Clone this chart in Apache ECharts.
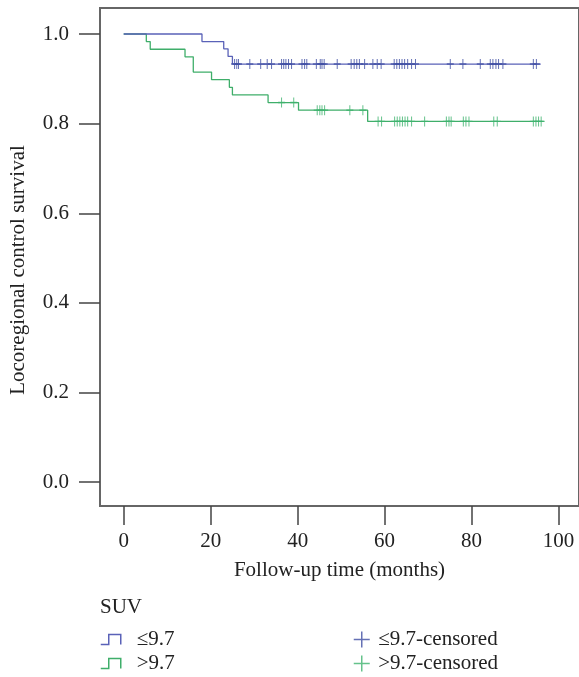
<!DOCTYPE html>
<html>
<head>
<meta charset="utf-8">
<script src="https://cdn.jsdelivr.net/npm/echarts@6/dist/echarts.min.js"></script>
<style>
html,body{margin:0;padding:0;background:#fff;}
#chart{width:579px;height:677px;}
</style>
</head>
<body>
<div id="chart"></div>
<script>
// ---- data ----
const timeTicks = [0, 20, 40, 60, 80, 100];
const survTicks = [0, 0.2, 0.4, 0.6, 0.8, 1.0];

// SUV <= 9.7 : event times (months) and survival after each event
const lowEventTimes = [18, 23, 24, 25];
const lowSurvival   = [0.983, 0.967, 0.950, 0.933];
const lowLastTime   = 95.9;
const lowCensored   = [25.5, 26, 26.4, 29, 31.5, 33, 34, 36.3, 36.8, 37.3, 37.9, 38.6,
                       41, 41.6, 42.1, 44.3, 45.2, 45.6, 46.1, 49.1, 52.3, 53.0, 53.6, 54.2,
                       55.4, 57.3, 58.3, 59.2, 62.2, 62.8, 63.4, 64.0, 64.6, 65.3, 66.2, 67.1,
                       75.1, 78.0, 82.0, 84.3, 84.9, 85.6, 86.2, 87.2, 94.2, 94.9];

// SUV > 9.7
const highEventTimes = [5.2, 6.1, 14.1, 16.0, 20.2, 24.3, 25.0, 33.2, 40.2, 56.1];
const highSurvival   = [0.983, 0.966, 0.949, 0.915, 0.898, 0.881, 0.864, 0.847, 0.830, 0.805];
const highLastTime   = 96.6;
const highCensored   = [36.3, 39.1, 44.5, 45.1, 45.6, 46.2, 52.0, 55.0,
                        58.5, 59.3, 62.3, 62.9, 63.5, 64.1, 64.7, 65.3, 66.2, 69.2,
                        74.2, 74.8, 75.3, 78.1, 78.7, 79.4, 85.1, 85.9, 94.2, 94.8, 95.4, 96.0];

const groupNames = ['≤9.7', '>9.7'];
const censorNames = ['≤9.7-censored', '>9.7-censored'];

// ---- build step data ----
function stepData(times, surv, last) {
  const d = [[0, 1]];
  for (let i = 0; i < times.length; i++) d.push([times[i], surv[i]]);
  d.push([last, surv[surv.length - 1]]);
  return d;
}
function survAt(t, times, surv) {
  let s = 1;
  for (let i = 0; i < times.length; i++) if (times[i] <= t) s = surv[i];
  return s;
}
function censorData(cens, times, surv) {
  return cens.map(t => [t, survAt(t, times, surv)]);
}

const blueLine = '#5a62b8', blueMark = '#3f4ea3';
const greenLine = '#3fae6a', greenMark = '#3fb36e';
const FONT = 'Liberation Serif';
const FS = 21;
const stepIcon = 'path://M0,10 L8,10 L8,0 L20,0 L20,10';
const plusIcon = 'path://M0,5 L10,5 M5,0 L5,10';

function legendItem(name, icon, color, left, top, w, h, gap) {
  return {
    orient: 'horizontal', left: left, top: top, padding: 0, itemGap: 0,
    itemWidth: w, itemHeight: h,
    textStyle: {fontFamily: FONT, fontSize: FS, color: '#222', padding: [0, 0, 0, gap]},
    data: [{name: name, icon: icon, itemStyle: {color: 'transparent', borderColor: color, borderWidth: 1.5}}]
  };
}

const chart = echarts.init(document.getElementById('chart'), null, {renderer: 'canvas'});
chart.setOption({
  animation: false,
  backgroundColor: '#fff',
  textStyle: {fontFamily: FONT},
  title: {
    text: 'SUV', left: 100, top: 597, padding: 0,
    textStyle: {fontFamily: FONT, fontSize: FS, fontWeight: 'normal', color: '#222'}
  },
  legend: [
    legendItem(groupNames[0], stepIcon, blueLine, 100, 629, 22, 10, 10),
    legendItem(groupNames[1], stepIcon, greenLine, 100, 653, 22, 10, 10),
    legendItem(censorNames[0], plusIcon, blueMark, 353, 629, 19, 16, 2),
    legendItem(censorNames[1], plusIcon, greenMark, 353, 653, 19, 16, 2)
  ],
  grid: {
    left: 99, right: -5, top: 8, bottom: 171,
    show: true, borderColor: '#666', borderWidth: 2, backgroundColor: 'transparent'
  },
  xAxis: {
    type: 'value', min: -5.45, max: 104.7,
    name: 'Follow-up time (months)', nameLocation: 'middle', nameGap: 54,
    nameTextStyle: {fontFamily: FONT, fontSize: FS, color: '#222'},
    axisLine: {show: false, onZero: false},
    axisTick: {show: true, inside: false, length: 19, customValues: timeTicks, lineStyle: {color: '#444', width: 1.5}},
    axisLabel: {customValues: timeTicks, margin: 25, fontFamily: FONT, fontSize: FS, color: '#222'},
    splitLine: {show: false}
  },
  yAxis: {
    type: 'value', min: -0.053, max: 1.058,
    name: 'Locoregional control survival', nameLocation: 'middle', nameGap: 71,
    nameTextStyle: {fontFamily: FONT, fontSize: FS, color: '#222', padding: [0, 26, 0, 0]},
    axisLine: {show: false, onZero: false},
    axisTick: {show: true, inside: false, length: 21, customValues: survTicks, lineStyle: {color: '#444', width: 1.5}},
    axisLabel: {customValues: survTicks, margin: 31, fontFamily: FONT, fontSize: FS, color: '#222',
                formatter: v => v.toFixed(1)},
    splitLine: {show: false}
  },
  series: [
    {
      name: groupNames[0], type: 'line', step: 'end', showSymbol: false, z: 3,
      data: stepData(lowEventTimes, lowSurvival, lowLastTime),
      lineStyle: {color: blueLine, width: 1.3}, itemStyle: {color: blueLine}
    },
    {
      name: groupNames[1], type: 'line', step: 'end', showSymbol: false, z: 2,
      data: stepData(highEventTimes, highSurvival, highLastTime),
      lineStyle: {color: greenLine, width: 1.3}, itemStyle: {color: greenLine}
    },
    {
      name: censorNames[0], type: 'scatter', symbol: plusIcon, symbolSize: [7, 10], z: 4,
      data: censorData(lowCensored, lowEventTimes, lowSurvival),
      itemStyle: {color: 'transparent', borderColor: blueMark, borderWidth: 1.2}
    },
    {
      name: censorNames[1], type: 'scatter', symbol: plusIcon, symbolSize: [7, 10], z: 4,
      data: censorData(highCensored, highEventTimes, highSurvival),
      itemStyle: {color: 'transparent', borderColor: greenMark, borderWidth: 1.2}
    }
  ]
});
</script>
</body>
</html>
